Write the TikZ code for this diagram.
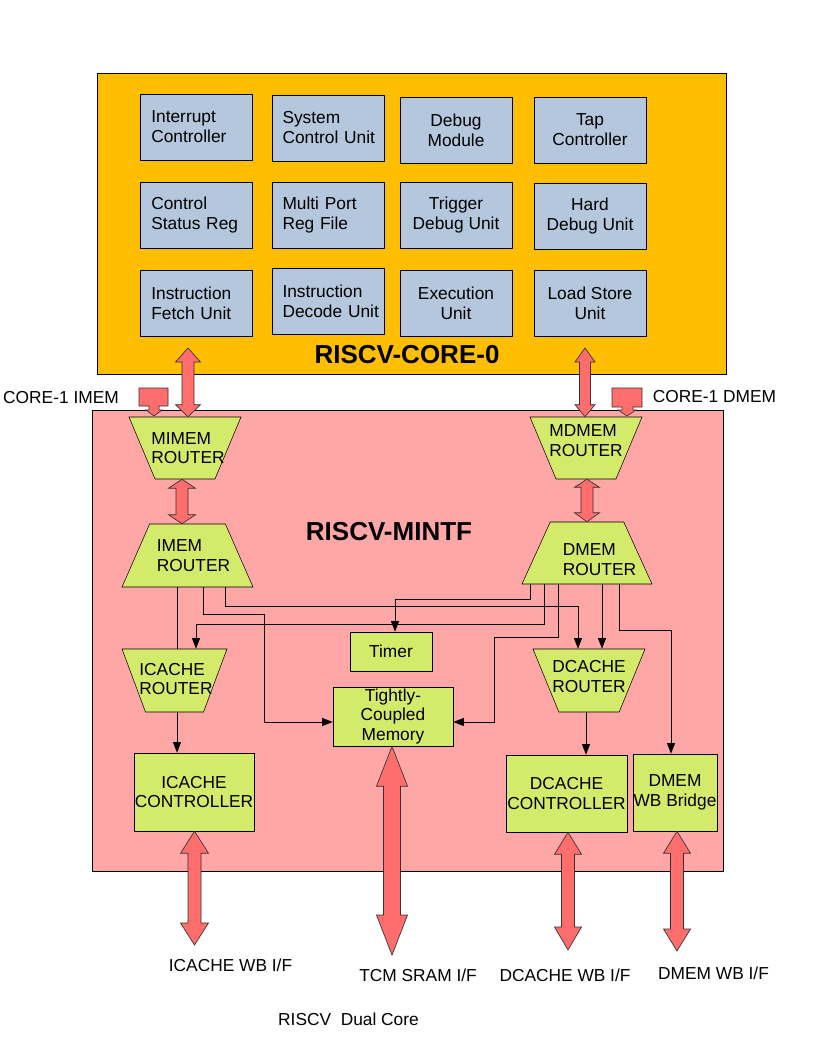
\documentclass[tikz,border=0pt]{standalone}
\usepackage{fontspec}
\setmainfont{Liberation Sans}
\usetikzlibrary{shapes.geometric,arrows.meta,calc}
\definecolor{coreor}{HTML}{FFBF00}
\definecolor{unitbl}{HTML}{B4C7DC}
\definecolor{mintpk}{HTML}{FFA6A6}
\definecolor{grn}{HTML}{D4EA6B}
\definecolor{arrred}{HTML}{FF6D6D}
\newcommand\ufont{\fontsize{13}{15}\selectfont}
\newcommand\mybarr[6]{%
\draw[blk] (#1) -- ($(#1)+(#4,#5)$) -- ($(#1)+(#3,#5)$) -- ($(#2)+(#3,-#6)$) -- ($(#2)+(#4,-#6)$) -- (#2) -- ($(#2)+(-#4,-#6)$) -- ($(#2)+(-#3,-#6)$) -- ($(#1)+(-#3,#5)$) -- ($(#1)+(-#4,#5)$) -- cycle;}
\begin{document}
\begin{tikzpicture}[x=0.75pt,y=-0.75pt,
  unit/.style={draw, fill=unitbl, minimum width=84pt, minimum height=49.5pt, inner sep=0pt, font=\ufont},
  unitA/.style={unit, align=left, text width=67pt},
  unitB/.style={unit, align=left, text width=69pt},
  unitC/.style={unit, align=center},
  router/.style={draw, fill=grn, trapezium, trapezium stretches=true, inner sep=2pt},
  inv/.style={shape border rotate=180},
  rlbl/.style={align=left, font=\fontsize{13}{14.5}\selectfont},
  gbox/.style={draw, fill=grn, inner sep=0pt, align=center, font=\fontsize{13}{14.6}\selectfont},
  ln/.style={line width=0.75pt},
  arr/.style={line width=0.75pt, -{Triangle[length=8pt,width=6pt]}},
  blk/.style={draw=black!80, line width=0.5pt, fill=arrred},
  txt/.style={font=\ufont, inner sep=0pt},
  title/.style={font=\fontsize{19.5}{22}\selectfont\bfseries, inner sep=0pt}]
\useasboundingbox (0,0) rectangle (816,1056);
\fill[white] (0,0) rectangle (816,1056);

% core
\node[draw, fill=coreor, minimum width=471.75pt, minimum height=225.75pt, inner sep=0pt] (core) at (411.5,223.5) {};
\node[unitA] (intc) at (196,127) {Interrupt\\Controller};
\node[unitB] (sysc) at (328.5,128) {System\\\mbox{Control Unit}};
\node[unitC] (dbgm) at (456,130) {Debug\\Module};
\node[unitC] (tapc) at (590,130) {Tap\\Controller};
\node[unitA] (csr) at (196,215) {Control\\\mbox{Status Reg}};
\node[unitB] (mprf) at (328.5,215) {Multi Port\\Reg File};
\node[unitC] (tdu) at (456,215) {Trigger\\Debug Unit};
\node[unitC] (hdu) at (590,216) {Hard\\Debug Unit};
\node[unitA] (ifu) at (196,303) {Instruction\\\mbox{Fetch Unit}};
\node[unitB] (idu) at (328.5,301) {Instruction\\\mbox{Decode Unit}};
\node[unitC] (exu) at (456,303) {Execution\\Unit};
\node[unitC] (lsu) at (590,303) {Load Store\\Unit};
\node[title] (coret) at (407,355) {RISCV-CORE-0};

% mintf
\node[draw, fill=mintpk, minimum width=473.25pt, minimum height=345.75pt, inner sep=0pt] (mintf) at (407.5,640.5) {};
\node[title] (mintft) at (389,532) {RISCV-MINTF};

% routers
\node[router, inv, minimum width=84pt, minimum height=46.5pt, trapezium left angle=66.5, trapezium right angle=66.5,
  label={[rlbl, xshift=2.25pt]center:MIMEM\\ROUTER}] (mimemR) at (185,448) {};
\node[router, minimum width=98.25pt, minimum height=47.25pt, trapezium left angle=70, trapezium right angle=70,
  label={[rlbl, xshift=4.5pt]center:IMEM\\ROUTER}] (imemR) at (187.5,555.5) {};
\node[router, inv, minimum width=84pt, minimum height=46.5pt, trapezium left angle=66.5, trapezium right angle=66.5,
  label={[rlbl, yshift=5.6pt]center:MDMEM\\ROUTER}] (mdmemR) at (586,448) {};
\node[router, minimum width=97.5pt, minimum height=46.5pt, trapezium left angle=69, trapezium right angle=69,
  label={[rlbl, xshift=9.4pt, yshift=-4.9pt]center:DMEM\\ROUTER}] (dmemR) at (587,553) {};
\node[router, inv, minimum width=78.75pt, minimum height=47.25pt, trapezium left angle=68, trapezium right angle=68,
  label={[rlbl, xshift=1.1pt, yshift=1.1pt]center:ICACHE\\ROUTER}] (icR) at (174.5,680.5) {};
\node[router, inv, minimum width=84pt, minimum height=47.25pt, trapezium left angle=66.8, trapezium right angle=66.8,
  label={[rlbl, yshift=3pt]center:DCACHE\\ROUTER}] (dcR) at (589,680.5) {};

% green boxes
\node[gbox, minimum width=61.5pt, minimum height=29.25pt] (timer) at (391,651.5) {Timer};
\node[gbox, minimum width=90pt, minimum height=44.25pt] (tcm) at (393,716.5) {Tightly-\\Coupled\\Memory};
\node[gbox, minimum width=90pt, minimum height=58.5pt] (icc) at (194,792) {ICACHE\\CONTROLLER};
\node[gbox, minimum width=90.75pt, minimum height=57.75pt] (dcc) at (566.5,793.5) {DCACHE\\CONTROLLER};
\node[gbox, minimum width=63pt, minimum height=57.75pt] (wb) at (675,792.5) {DMEM\\WB Bridge};

% connectors
\coordinate (c1) at (177,0);
\coordinate (c2a) at (203,614);
\coordinate (c2b) at (264,722);
\coordinate (c3) at (225,606);
\coordinate (c3x) at (578,0);
\coordinate (d1) at (530,599);
\coordinate (t1) at (395,0);
\coordinate (d2) at (544,624);
\coordinate (i2) at (196,0);
\coordinate (d3) at (558,637);
\coordinate (d4) at (494,722);
\coordinate (e1) at (602,0);
\coordinate (e2) at (619,630);
\coordinate (e3) at (671,0);
\coordinate (f1) at (586,0);
\draw[ln] (imemR.south -| c1) -- (icR.north -| c1);
\draw[arr] (imemR.south -| c2a) -- (c2a) -| (c2b) -- (tcm.west |- c2b);
\draw[arr] (imemR.south -| c3) -- (c3) -| (dcR.north -| c3x);
\draw[arr] (dmemR.south -| d1) -- (d1) -| (timer.north -| t1);
\draw[arr] (dmemR.south -| d2) -- (d2) -| (icR.north -| i2);
\draw[arr] (dmemR.south -| d3) -- (d3) -| (d4) -- (tcm.east |- d4);
\draw[arr] (dmemR.south -| e1) -- (dcR.north -| e1);
\draw[arr] (dmemR.south -| e2) -- (e2) -| (wb.north -| e3);
\draw[arr] (icR.south -| c1) -- (icc.north -| c1);
\draw[arr] (dcR.south -| f1) -- (dcc.north -| f1);

% block arrows
\coordinate (ca1) at (188,348);
\coordinate (ca1b) at (mimemR.north -| ca1);
\mybarr{ca1}{ca1b}{6}{12.5}{14}{12}
\coordinate (ca2) at (585,348);
\coordinate (ca2b) at (mdmemR.north -| ca2);
\mybarr{ca2}{ca2b}{5.5}{10}{14}{12}
\coordinate (m1x) at (182,0);
\coordinate (m1a) at (mimemR.south -| m1x);
\coordinate (m1b) at (imemR.north -| m1x);
\mybarr{m1a}{m1b}{6}{13.5}{9}{9}
\coordinate (m2x) at (587,0);
\coordinate (m2a) at (mdmemR.south -| m2x);
\coordinate (m2b) at (dmemR.north -| m2x);
\mybarr{m2a}{m2b}{6}{12.5}{8}{9}
\coordinate (b1e) at (194.5,945);
\coordinate (b1s) at (icc.south -| b1e);
\mybarr{b1s}{b1e}{6.5}{14}{22}{22}
\coordinate (b2e) at (392,955);
\coordinate (b2s) at (tcm.south -| b2e);
\mybarr{b2s}{b2e}{8.5}{15.5}{40}{40}
\coordinate (b3e) at (568,950);
\coordinate (b3s) at (dcc.south -| b3e);
\mybarr{b3s}{b3e}{6.5}{13.5}{22}{23}
\coordinate (b4e) at (677,951);
\coordinate (b4s) at (wb.south -| b4e);
\mybarr{b4s}{b4e}{6.5}{13.5}{22}{22}

% core-1 inputs
\draw[blk] (139,388) -- (168,388) -- (168,406) -- (159,406) -- (159,410) -- (162,410) -- (154,416) -- (146,410) -- (149,410) -- (149,406) -- (139,406) -- cycle;
\draw[blk] (612,388) -- (642,388) -- (642,407) -- (633,407) -- (633,410) -- (636,410) -- (627,416) -- (618,410) -- (622,410) -- (622,407) -- (612,407) -- cycle;

% labels
\node[txt] (l1) at (61,398) {CORE-1 IMEM};
\node[txt] (l2) at (714.5,397) {CORE-1 DMEM};
\node[txt] (l3) at (230.5,965) {ICACHE WB I/F};
\node[txt] (l4) at (418,975) {TCM SRAM I/F};
\node[txt] (l5) at (565,975) {DCACHE WB I/F};
\node[txt] (l6) at (713.5,973) {DMEM WB I/F};
\node[txt] (l7) at (348.5,1019) {RISCV\ \ Dual Core};
\end{tikzpicture}
\end{document}
